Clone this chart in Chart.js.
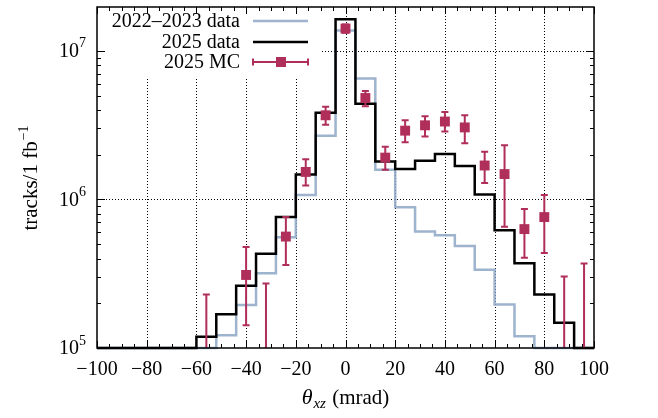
<!DOCTYPE html>
<html>
<head>
<meta charset="utf-8">
<script src="https://cdn.jsdelivr.net/npm/chart.js@4.4.1/dist/chart.umd.min.js"></script>
<style>
  html, body { margin: 0; padding: 0; background: #fff; }
  canvas { display: block; }
</style>
</head>
<body>
<canvas id="thetaChart" width="658" height="418"></canvas>
<script>
// bin centres (mrad), 8 mrad wide bins
const binCenters = [-96, -88, -80, -72, -64, -56, -48, -40, -32, -24, -16, -8, 0,
                    8, 16, 24, 32, 40, 48, 56, 64, 72, 80, 88, 96];
const binWidth = 8;

// tracks / 1 fb^-1
const data2022 = [1e5, 1e5, 1e5, 1e5, 1e5, 1e5, 1.22e5, 1.95e5, 3.18e5, 5.56e5, 1.07e6, 2.68e6, 1.37e7,
                  6.5e6, 1.58e6, 8.85e5, 6.07e5, 5.74e5, 4.85e5, 3.36e5, 1.96e5, 1.2e5, 1e5, 1e5, 1e5];
const data2025 = [1e5, 1e5, 1e5, 1e5, 1e5, 1.19e5, 1.69e5, 2.62e5, 4.3e5, 7.6e5, 1.47e6, 3.83e6, 1.63e7,
                  4.4e6, 1.8e6, 1.6e6, 1.82e6, 2.02e6, 1.68e6, 1.08e6, 6.2e5, 3.72e5, 2.29e5, 1.48e5, 1e5];

// MC with asymmetric errors (null = empty bin)
const mcValues = [null, null, null, null, null, 6e4, null, 3.1e5, 6e4, 5.62e5, 1.53e6, 3.68e6, 1.41e7,
                  4.81e6, 1.91e6, 2.9e6, 3.15e6, 3.34e6, 3.05e6, 1.69e6, 1.48e6, 6.31e5, 7.6e5, 6e4, 6e4];
const mcLow = [null, null, null, null, null, 1e4, null, 1.42e5, 1e4, 3.62e5, 1.24e6, 3.18e6, 1.32e7,
               4.24e6, 1.58e6, 2.42e6, 2.65e6, 2.86e6, 2.39e6, 1.29e6, 6.54e5, 4.05e5, 4.35e5, 1e4, 1e4];
const mcHigh = [null, null, null, null, null, 2.29e5, null, 4.78e5, 2.72e5, 7.6e5, 1.86e6, 4.2e6, 1.5e7,
                5.37e6, 2.26e6, 3.41e6, 3.62e6, 3.87e6, 3.68e6, 2.09e6, 2.31e6, 8.63e5, 1.07e6, 3.03e5, 3.7e5];

const xTicks = [-100, -80, -60, -40, -20, 0, 20, 40, 60, 80, 100];
const yDecades = [5, 6, 7];

const blueColor = 'rgba(140,166,198,0.85)';
const mcColor = 'rgb(176,46,90)';
const serif = '"Liberation Serif", "DejaVu Serif", serif';

function stepPoints(values) {
  const pts = binCenters.map((c, i) => ({ x: c - binWidth / 2, y: values[i] }));
  pts.push({ x: binCenters[binCenters.length - 1] + binWidth / 2, y: values[values.length - 1] });
  return pts;
}

const mcPoints = [];
binCenters.forEach((c, i) => {
  if (mcValues[i] !== null) mcPoints.push({ x: c, y: mcValues[i], lo: mcLow[i], hi: mcHigh[i] });
});

function drawErrorBar(ctx, x, yLo, yHi, cap) {
  ctx.beginPath();
  ctx.moveTo(x, yLo); ctx.lineTo(x, yHi);
  ctx.moveTo(x - cap, yLo); ctx.lineTo(x + cap, yLo);
  ctx.moveTo(x - cap, yHi); ctx.lineTo(x + cap, yHi);
  ctx.stroke();
}

function drawPow10(ctx, xRight, yMid, exp) {
  ctx.textBaseline = 'middle';
  ctx.textAlign = 'left';
  ctx.font = '14px ' + serif;
  const supW = ctx.measureText(String(exp)).width;
  ctx.font = '20px ' + serif;
  const baseW = ctx.measureText('10').width;
  ctx.fillText('10', xRight - supW - baseW, yMid + 1);
  ctx.font = '14px ' + serif;
  ctx.fillText(String(exp), xRight - supW, yMid - 7);
}

const decor = {
  id: 'decor',
  beforeDatasetsDraw(chart) {
    const { ctx, chartArea: a, scales: { x, y } } = chart;
    ctx.save();
    ctx.strokeStyle = '#000';
    ctx.lineWidth = 1;
    ctx.setLineDash([1, 2]);
    ctx.beginPath();
    xTicks.slice(1, -1).forEach(v => {
      const px = Math.round(x.getPixelForValue(v)) + 0.5;
      ctx.moveTo(px, a.top); ctx.lineTo(px, a.bottom);
    });
    yDecades.slice(1).forEach(d => {
      const py = Math.round(y.getPixelForValue(Math.pow(10, d))) + 0.5;
      ctx.moveTo(a.left, py); ctx.lineTo(a.right, py);
    });
    ctx.stroke();
    ctx.restore();
  },
  beforeDatasetDraw(chart, args) {
    if (chart.data.datasets[args.index].label !== '2025 MC') return;
    const { ctx, chartArea: a, scales: { x, y } } = chart;
    ctx.save();
    ctx.beginPath();
    ctx.rect(a.left, a.top, a.right - a.left, a.bottom - a.top);
    ctx.clip();
    ctx.strokeStyle = mcColor;
    ctx.lineWidth = 2;
    mcPoints.forEach(p => {
      drawErrorBar(ctx, x.getPixelForValue(p.x), y.getPixelForValue(p.lo), y.getPixelForValue(p.hi), 3.5);
    });
    ctx.restore();
  },
  afterDatasetsDraw(chart) {
    const { ctx, chartArea: a, scales: { x, y } } = chart;
    ctx.save();

    // legend
    ctx.fillStyle = '#fff';
    ctx.fillRect(a.left + 1, a.top + 1, 224, 71);
    ctx.fillStyle = '#000';
    ctx.font = '20px ' + serif;
    ctx.textAlign = 'right';
    ctx.textBaseline = 'middle';
    const rows = [['2022\u20132023 data', 21], ['2025 data', 42], ['2025 MC', 62]];
    rows.forEach(([t, ry]) => ctx.fillText(t, 240, ry + 1));
    ctx.lineWidth = 2.5;
    ctx.strokeStyle = blueColor;
    ctx.beginPath(); ctx.moveTo(253, 21); ctx.lineTo(308, 21); ctx.stroke();
    ctx.strokeStyle = '#000';
    ctx.beginPath(); ctx.moveTo(253, 42); ctx.lineTo(308, 42); ctx.stroke();
    ctx.strokeStyle = mcColor;
    ctx.fillStyle = mcColor;
    ctx.lineWidth = 2;
    ctx.beginPath(); ctx.moveTo(253, 62); ctx.lineTo(308, 62);
    ctx.moveTo(253, 58.5); ctx.lineTo(253, 65.5);
    ctx.moveTo(308, 58.5); ctx.lineTo(308, 65.5);
    ctx.stroke();
    ctx.fillRect(276, 57, 10, 10);

    // frame
    ctx.strokeStyle = '#000';
    ctx.lineWidth = 1.5;
    ctx.strokeRect(a.left, a.top, a.right - a.left, a.bottom - a.top);

    // ticks
    ctx.lineWidth = 1;
    ctx.beginPath();
    for (let v = -100; v <= 100; v += 5) {
      const px = Math.round(x.getPixelForValue(v)) + 0.5;
      const len = v % 20 === 0 ? 7 : 4;
      ctx.moveTo(px, a.bottom); ctx.lineTo(px, a.bottom - len);
      ctx.moveTo(px, a.top); ctx.lineTo(px, a.top + len);
    }
    for (let d = 5; d <= 7; d++) {
      for (let m = 1; m <= 9; m++) {
        const val = m * Math.pow(10, d);
        if (val > y.max) break;
        const py = Math.round(y.getPixelForValue(val)) + 0.5;
        const len = m === 1 ? 8 : 4;
        ctx.moveTo(a.left, py); ctx.lineTo(a.left + len, py);
        ctx.moveTo(a.right, py); ctx.lineTo(a.right - len, py);
      }
    }
    ctx.stroke();

    // x tick labels
    ctx.fillStyle = '#000';
    ctx.font = '20px ' + serif;
    ctx.textAlign = 'center';
    ctx.textBaseline = 'middle';
    xTicks.forEach(v => {
      const label = v < 0 ? '\u2212' + Math.abs(v) : String(v);
      ctx.fillText(label, x.getPixelForValue(v), 370);
    });

    // y tick labels
    yDecades.forEach(d => drawPow10(ctx, 86, y.getPixelForValue(Math.pow(10, d)), d));

    // x title
    ctx.textBaseline = 'alphabetic';
    ctx.textAlign = 'left';
    const cx = (a.left + a.right) / 2;
    ctx.font = 'italic 22px ' + serif;
    const wTheta = ctx.measureText('\u03b8').width;
    ctx.font = 'italic 15px ' + serif;
    const wSub = ctx.measureText('xz').width + 2;
    ctx.font = '21px ' + serif;
    const wRest = ctx.measureText(' (mrad)').width;
    let tx = cx - (wTheta + wSub + wRest) / 2;
    ctx.font = 'italic 22px ' + serif;
    ctx.fillText('\u03b8', tx, 404); tx += wTheta;
    ctx.font = 'italic 15px ' + serif;
    ctx.fillText('xz', tx + 1, 408); tx += wSub;
    ctx.font = '21px ' + serif;
    ctx.fillText(' (mrad)', tx, 404);

    // y title
    ctx.save();
    ctx.translate(37, (a.top + a.bottom) / 2 + 1);
    ctx.rotate(-Math.PI / 2);
    ctx.font = '21px ' + serif;
    const wMain = ctx.measureText('tracks/1 fb').width;
    ctx.font = '14px ' + serif;
    const wExp = ctx.measureText('\u22121').width;
    const ty = -(wMain + wExp) / 2;
    ctx.font = '21px ' + serif;
    ctx.fillText('tracks/1 fb', ty, 0);
    ctx.font = '14px ' + serif;
    ctx.fillText('\u22121', ty + wMain + 1, -9);
    ctx.restore();

    ctx.restore();
  }
};

new Chart(document.getElementById('thetaChart'), {
  type: 'line',
  data: {
    datasets: [
      {
        label: '2025 MC',
        type: 'scatter',
        data: mcPoints,
        showLine: false,
        pointStyle: 'rect',
        pointRadius: 7,
        pointBackgroundColor: mcColor,
        pointBorderWidth: 0,
        order: 0
      },
      {
        label: '2025 data',
        data: stepPoints(data2025),
        stepped: 'before',
        borderColor: '#000',
        borderWidth: 2.5,
        pointRadius: 0,
        fill: false,
        clip: 3,
        order: 1
      },
      {
        label: '2022\u20132023 data',
        data: stepPoints(data2022),
        stepped: 'before',
        borderColor: blueColor,
        borderWidth: 2.5,
        pointRadius: 0,
        fill: false,
        clip: 3,
        order: 2
      }
    ]
  },
  options: {
    responsive: false,
    animation: false,
    devicePixelRatio: 1,
    layout: { padding: { left: 97, right: 64, top: 1, bottom: 70 } },
    plugins: { legend: { display: false }, tooltip: { enabled: false } },
    scales: {
      x: { type: 'linear', min: -100, max: 100, display: false },
      y: { type: 'logarithmic', min: 1e5, max: 1.97e7, display: false }
    }
  },
  plugins: [decor]
});
</script>
</body>
</html>
